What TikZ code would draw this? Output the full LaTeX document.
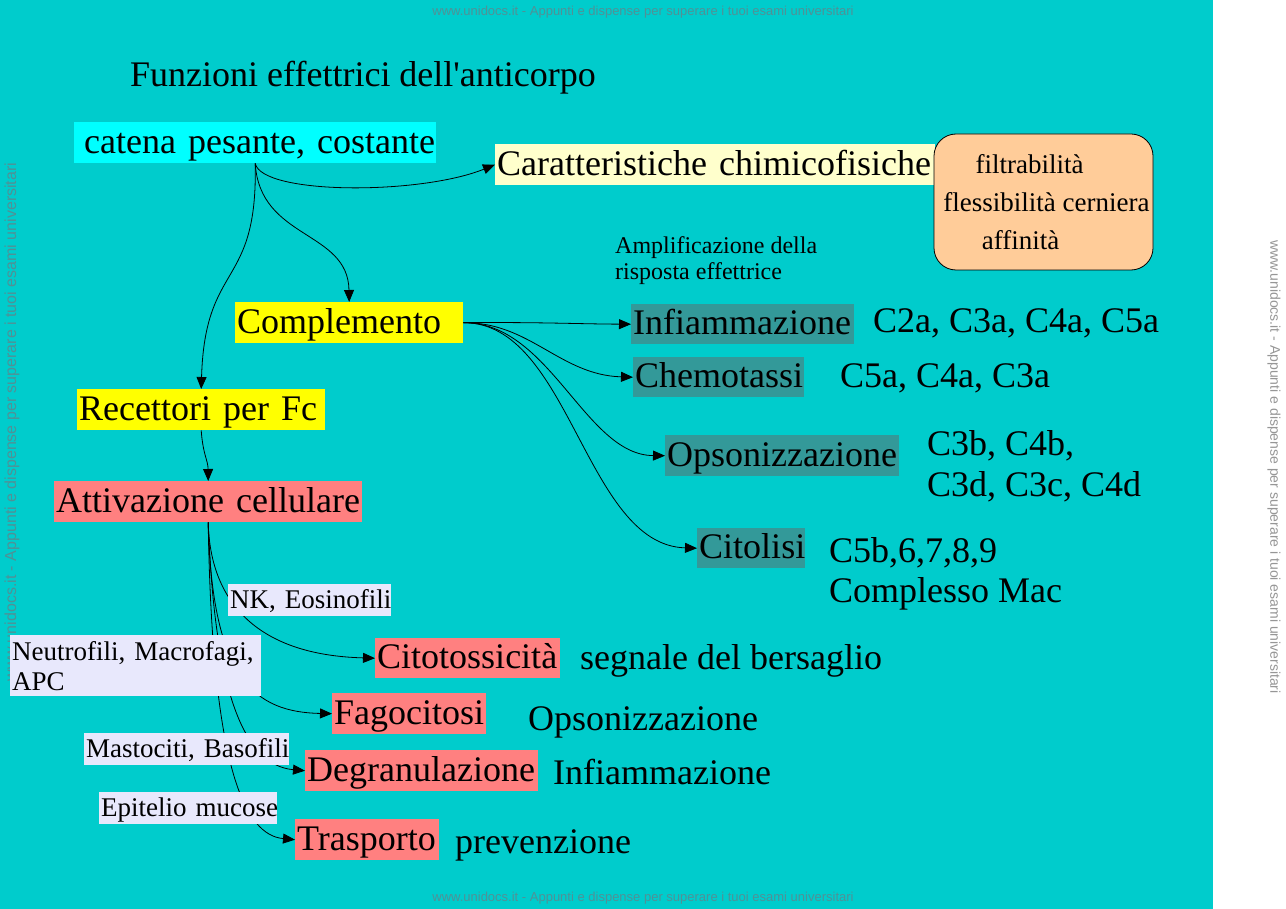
\documentclass[tikz,border=0pt]{standalone}
\usepackage{fontspec}
\setmainfont{Liberation Serif}
\newfontfamily\wmfont{Liberation Sans}
\usetikzlibrary{arrows.meta}
\definecolor{bgteal}{RGB}{0,204,204}
\definecolor{cyanbox}{RGB}{0,255,255}
\definecolor{pyellow}{RGB}{255,255,204}
\definecolor{ybox}{RGB}{255,255,0}
\definecolor{salmon}{RGB}{255,128,128}
\definecolor{dteal}{RGB}{51,153,153}
\definecolor{peach}{RGB}{255,204,153}
\definecolor{lav}{RGB}{232,232,252}
\definecolor{wmteal}{RGB}{80,145,150}
\definecolor{wmgray}{RGB}{150,150,150}
\newcommand{\fbig}{\fontsize{36}{40}\selectfont}
\newcommand{\fmid}{\fontsize{27}{30}\selectfont}
\newcommand{\fsm}{\fontsize{24}{26}\selectfont}
\tikzset{
  bx/.style={anchor=north west, inner xsep=2pt, inner ysep=0pt, align=left,
    font=\fbig, text height=29pt, text depth=8pt, minimum height=41pt},
  lb/.style={anchor=north west, inner xsep=2pt, inner ysep=0pt, align=left,
    font=\fmid, text height=22pt, text depth=6pt, minimum height=32pt, fill=lav},
  plain/.style={anchor=base west, inner sep=0pt, font=\fbig},
  conn/.style={draw=black, line width=0.8pt, -{Triangle[length=12pt,width=10pt]}},
  wm/.style={inner sep=0pt, font=\wmfont\fontsize{13}{15}\selectfont, text=wmteal}
}
\begin{document}
\begin{tikzpicture}[x=1pt,y=-1pt]
\useasboundingbox (0,0) rectangle (1286,909);
\fill[bgteal] (0,0) rectangle (1213,909);
\fill[white] (1213,0) rectangle (1286,909);

% watermarks
\node[wm] (wmtop) at (643,12) {www.unidocs.it - Appunti e dispense per superare i tuoi esami universitari};
\node[wm] (wmbot) at (643,898) {www.unidocs.it - Appunti e dispense per superare i tuoi esami universitari};
\node[wm, text=wmgray, rotate=-90, font=\wmfont\fontsize{14}{16}\selectfont] (wmright) at (1274,467) {www.unidocs.it - Appunti e dispense per superare i tuoi esami universitari};
\node[wm, rotate=90, font=\wmfont\fontsize{16}{18}\selectfont] (wmleft) at (12,422) {www.unidocs.it - Appunti e dispense per superare i tuoi esami universitari};

% title
\node[plain] (title) at (130,87) {Funzioni effettrici dell\textquotesingle anticorpo};

% main boxes
\node[bx, fill=cyanbox, text width=358pt] (cat) at (74,122) {\mbox{\hspace*{8pt}catena pesante, costante}};
\node[bx, fill=pyellow, text width=436pt] (car) at (495,144) {\mbox{Caratteristiche chimicofisiche}};
\node[bx, fill=ybox, text width=224pt] (com) at (235,302) {\mbox{Complemento}};
\node[bx, fill=ybox, text width=244pt] (rec) at (77,389) {\mbox{Recettori per Fc}};
\node[bx, fill=salmon, text width=304pt] (att) at (54,481) {\mbox{Attivazione cellulare}};

% properties box
\node[draw, line width=0.8pt, rounded corners=22pt, fill=peach, minimum width=219pt,
  minimum height=136pt, align=center, inner sep=0pt,
  font=\fontsize{27}{38}\selectfont] (props) at (1043.5,202)
  {filtrabilità\hspace*{28pt}\\\hspace*{6pt}flessibilità cerniera\\affinità\hspace*{46pt}};

\node[anchor=north west, inner sep=0pt, align=left, font=\fsm] (amp) at (615,236.5)
  {Amplificazione della\\risposta effettrice};

% complement effects
\node[bx, fill=dteal, text width=219pt, minimum height=40pt] (inf) at (631,304) {\mbox{Infiammazione}};
\node[bx, fill=dteal, text width=167pt, minimum height=40pt] (che) at (633,357) {\mbox{Chemotassi}};
\node[bx, fill=dteal, text width=230pt] (ops) at (665,435) {\mbox{Opsonizzazione}};
\node[bx, fill=dteal, text width=104pt, minimum height=40pt] (cit) at (697,528) {\mbox{Citolisi}};

\node[plain] (infc) at (873,333) {C2a, C3a, C4a, C5a};
\node[plain] (chec) at (840,388) {C5a, C4a, C3a};
\node[anchor=north west, inner sep=0pt, align=left, font=\fontsize{36}{41}\selectfont] (opsc) at (927,430.4)
  {C3b, C4b,\\C3d, C3c, C4d};
\node[anchor=north west, inner sep=0pt, align=left, font=\fontsize{36}{40}\selectfont] (citc) at (829,537.4)
  {C5b,6,7,8,9\\Complesso Mac};

% cellular effects
\node[bx, fill=salmon, text width=181pt, minimum height=40pt] (cto) at (375,638) {\mbox{Citotossicità}};
\node[bx, fill=salmon, text width=150pt] (fag) at (332,693) {\mbox{Fagocitosi}};
\node[bx, fill=salmon, text width=229pt] (deg) at (305,750) {\mbox{Degranulazione}};
\node[bx, fill=salmon, text width=140pt] (tra) at (295,819) {\mbox{Trasporto}};

\node[plain] (ctoc) at (580,669) {segnale del bersaglio};
\node[plain] (fagc) at (528,730) {Opsonizzazione};
\node[plain] (degc) at (553,784) {Infiammazione};
\node[plain] (trac) at (455,853) {prevenzione};

% connectors
\draw[conn] (cat.south) .. controls (262,195) and (420,195) .. (car.west);
\draw[conn] (cat.south) .. controls (260,240) and (348,230) .. (com.north);
\draw[conn] (cat.south) .. controls (258,290) and (205,260) .. (rec.north);
\draw[conn] (rec.south) .. controls (203,455) and (208,460) .. (att.north);

\draw[conn] (com.east) .. controls (540,322) and (580,324) .. (inf.west);
\draw[conn] (com.east) .. controls (530,322) and (560,375) .. (che.west);
\draw[conn] (com.east) .. controls (550,322) and (585,455) .. (ops.west);
\draw[conn] (com.east) .. controls (570,322) and (585,545) .. (cit.west);

\draw[conn] (att.south) .. controls (210,600) and (255,655) .. (cto.west);
\draw[conn] (att.south) .. controls (212,680) and (255,712) .. (fag.west);
\draw[conn] (att.south) .. controls (214,680) and (240,765) .. (deg.west);
\draw[conn] (att.south) .. controls (212,770) and (245,835) .. (tra.west);

% cell-type labels (on top of connectors)
\node[lb, text width=159pt] (nk) at (228,584) {\mbox{NK, Eosinofili}};
\node[anchor=north west, inner xsep=2pt, inner ysep=0pt, align=left, fill=lav,
  font=\fmid, text width=247pt, minimum height=61pt] (neu) at (10,635)
  {Neutrofili, Macrofagi,\\APC};
\node[lb, text width=201pt] (mas) at (84,733) {\mbox{Mastociti, Basofili}};
\node[lb, text width=174pt] (epi) at (99,792) {\mbox{Epitelio mucose}};
\end{tikzpicture}
\end{document}
